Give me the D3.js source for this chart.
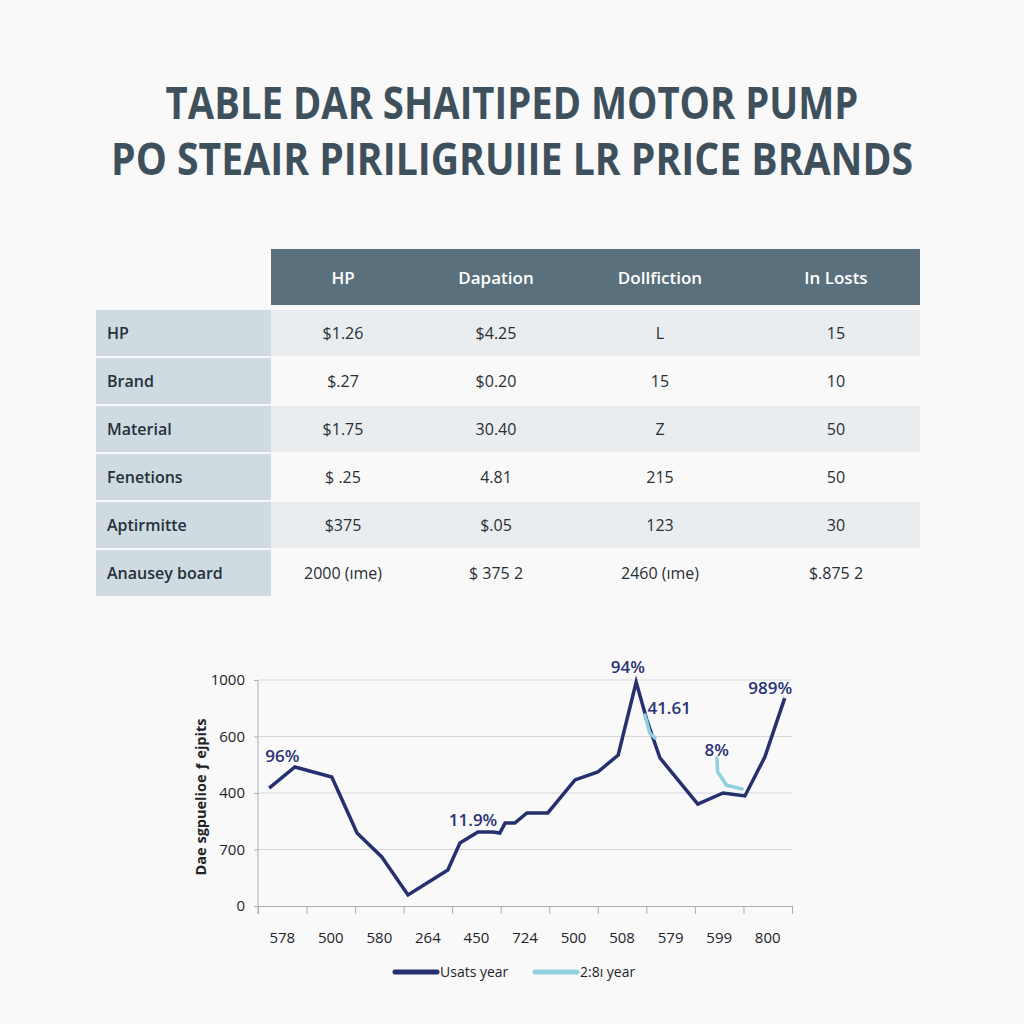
<!DOCTYPE html>
<html lang="en">
<head>
  <meta charset="UTF-8">
  <title>Motor pump price brands</title>
  <script src="https://cdn.jsdelivr.net/npm/d3@7/dist/d3.min.js"></script>
  <style>
    html, body { margin: 0; padding: 0; background: #f9f9fa; }
    svg { display: block; font-family: "Open Sans", "Noto Sans", sans-serif; }
  </style>
</head>
<body>
  <svg id="chart" width="1024" height="1024"></svg>
  <script>
    // ---- data ----
    const titleLines = ['TABLE DAR SHAITIPED MOTOR PUMP', 'PO STEAIR PIRILIGRUIIE LR PRICE BRANDS']
    const tableCols = ['HP', 'Dapation', 'Dollfiction', 'In Losts']
    const tableRows = ['HP', 'Brand', 'Material', 'Fenetions', 'Aptirmitte', 'Anausey board']
    const tableCells = [
      ['$1.26', '$4.25', 'L', '15'],
      ['$.27', '$0.20', '15', '10'],
      ['$1.75', '30.40', 'Z', '50'],
      ['$ .25', '4.81', '215', '50'],
      ['$375', '$.05', '123', '30'],
      ['2000 (ıme)', '$ 375 2', '2460 (ıme)', '$.875 2']
    ]

    const xLabels = ['578', '500', '580', '264', '450', '724', '500', '508', '579', '599', '800']
    const yTickVals = [0, 250, 500, 750, 1000]
    const yTickText = ['0', '700', '400', '600', '1000']
    const yTitle = 'Dae sgpuelioe ƒ ejpits'

    // series 1 (dark) – x in category units, y in axis units
    const usatsX = [0.23, 0.76, 1.52, 2.04, 2.55, 3.09, 3.91, 4.16, 4.53, 4.84, 4.98, 5.09, 5.29, 5.54, 5.97, 6.53, 7.0, 7.42, 7.79, 8.01, 8.28, 9.06, 9.58, 10.03, 10.44, 10.85]
    const usatsY = [522, 615, 571, 323, 217, 49, 159, 279, 327, 327, 323, 367, 367, 412, 412, 558, 593, 668, 991, 823, 655, 451, 500, 487, 659, 920]
    // series 2 (light) – two short pieces
    const secondX = [[7.97, 8.07, 8.18], [9.45, 9.47, 9.65, 9.97]]
    const secondY = [[845, 765, 743], [655, 593, 535, 518]]

    const notes = ['96%', '11.9%', '94%', '41.61', '8%', '989%']
    const noteX = [0.5, 4.43, 7.62, 8.47, 9.45, 10.55]
    const noteY = [637, 354, 1031, 850, 664, 938]

    const legendNames = ['Usats year', '2:8ı year']

    // ---- drawing ----
    const navy = '#26306e'
    const light = '#8fd0de'
    const svg = d3.select('#chart')

    // title – squeezed horizontally to the reference widths
    const titleWidths = [693, 802]
    svg.selectAll('.title')
      .data(titleLines)
      .enter()
      .append('text')
      .attr('class', 'title')
      .attr('x', 0)
      .attr('y', 0)
      .attr('text-anchor', 'middle')
      .attr('font-size', 45)
      .attr('font-weight', 700)
      .attr('fill', '#3e505c')
      .text(d => d)
      .each(function (d, i) {
        const w = this.getComputedTextLength()
        const sx = titleWidths[i] / w
        d3.select(this).attr('transform', `translate(512,${119 + i * 56}) scale(${sx},1)`)
      })

    // table
    const tbl = svg.append('g')
    const labelX0 = 96, labelX1 = 271, tableRight = 920
    const headTop = 249, headBottom = 305
    const rowY = d3.scaleBand().domain(d3.range(tableRows.length)).range([310, 596]).paddingInner(0.04)
    const colCenter = [343, 496, 660, 836]

    tbl.append('rect')
      .attr('x', labelX1).attr('y', headTop)
      .attr('width', tableRight - labelX1).attr('height', headBottom - headTop)
      .attr('fill', '#5b707d')
    tbl.selectAll('.th')
      .data(tableCols)
      .enter()
      .append('text')
      .attr('x', (d, i) => colCenter[i])
      .attr('y', (headTop + headBottom) / 2 + 7)
      .attr('text-anchor', 'middle')
      .attr('font-size', 17)
      .attr('font-weight', 600)
      .attr('fill', '#ffffff')
      .text(d => d)

    const rows = tbl.selectAll('.row')
      .data(tableRows)
      .enter()
      .append('g')
      .attr('transform', (d, i) => `translate(0,${rowY(i)})`)
    rows.append('rect')
      .attr('x', labelX0).attr('width', labelX1 - labelX0)
      .attr('height', rowY.bandwidth())
      .attr('fill', '#cfdbe1')
    rows.append('rect')
      .attr('x', labelX1).attr('width', tableRight - labelX1)
      .attr('height', rowY.bandwidth())
      .attr('fill', (d, i) => i % 2 === 0 ? '#e9edf0' : '#f9f9fa')
    rows.append('text')
      .attr('x', 107)
      .attr('y', rowY.bandwidth() / 2 + 6)
      .attr('font-size', 16)
      .attr('font-weight', 600)
      .attr('fill', '#25313a')
      .text(d => d)
    rows.each(function (d, i) {
      d3.select(this).selectAll('.td')
        .data(tableCells[i])
        .enter()
        .append('text')
        .attr('x', (v, j) => colCenter[j])
        .attr('y', rowY.bandwidth() / 2 + 6)
        .attr('text-anchor', 'middle')
        .attr('font-size', 16)
        .attr('fill', '#2a2f33')
        .text(v => v)
    })

    // line chart
    const x = d3.scaleLinear().domain([0, xLabels.length]).range([258, 792])
    const y = d3.scaleLinear().domain([0, 1000]).range([906, 680])
    const g = svg.append('g')

    g.selectAll('.grid')
      .data(yTickVals.slice(1))
      .enter()
      .append('line')
      .attr('x1', x(0)).attr('x2', x(xLabels.length))
      .attr('y1', d => y(d)).attr('y2', d => y(d))
      .attr('stroke', '#d3d7db').attr('stroke-width', 1)

    const xAxis = d3.axisBottom(x)
      .tickValues(d3.range(xLabels.length + 1))
      .tickSize(8)
      .tickFormat('')
    g.append('g')
      .attr('transform', `translate(0,${y(0)})`)
      .call(xAxis)
      .call(a => a.selectAll('line, path').attr('stroke', '#a9afb5'))
    g.selectAll('.xlab')
      .data(xLabels)
      .enter()
      .append('text')
      .attr('x', (d, i) => x(i + 0.5))
      .attr('y', 943)
      .attr('text-anchor', 'middle')
      .attr('font-size', 15)
      .attr('fill', '#1f2428')
      .text(d => d)

    const yAxis = d3.axisLeft(y)
      .tickValues(yTickVals)
      .tickSize(4)
      .tickFormat((d, i) => yTickText[i])
    g.append('g')
      .attr('transform', `translate(${x(0)},0)`)
      .call(yAxis)
      .call(a => a.select('.domain').attr('d', `M0,${y(1000)}V${y(0) + 8}`))
      .call(a => a.selectAll('line, path').attr('stroke', '#a9afb5'))
      .call(a => a.selectAll('text')
        .attr('font-size', 15)
        .attr('fill', '#1f2428')
        .attr('font-family', '"Open Sans", sans-serif')
        .attr('x', -13))

    g.append('text')
      .attr('transform', `translate(206,${(y(0) + y(1000)) / 2 + 4}) rotate(-90)`)
      .attr('text-anchor', 'middle')
      .attr('font-size', 14.5)
      .attr('font-weight', 700)
      .attr('fill', '#1f2428')
      .text(yTitle)

    const line = d3.line().x(d => x(d[0])).y(d => y(d[1]))

    g.append('path')
      .datum(usatsX.map((v, i) => [v, usatsY[i]]))
      .attr('d', line)
      .attr('fill', 'none')
      .attr('stroke', navy)
      .attr('stroke-width', 3.5)
      .attr('stroke-linejoin', 'miter')

    g.selectAll('.second')
      .data(secondX.map((xs, k) => xs.map((v, i) => [v, secondY[k][i]])))
      .enter()
      .append('path')
      .attr('d', line)
      .attr('fill', 'none')
      .attr('stroke', light)
      .attr('stroke-width', 3.5)
      .attr('stroke-linecap', 'round')

    g.selectAll('.note')
      .data(notes)
      .enter()
      .append('text')
      .attr('x', (d, i) => x(noteX[i]))
      .attr('y', (d, i) => y(noteY[i]))
      .attr('text-anchor', 'middle')
      .attr('font-size', 17)
      .attr('font-weight', 600)
      .attr('fill', '#2a3374')
      .text(d => d)

    // legend
    const legend = svg.append('g').attr('transform', 'translate(0,972)')
    const legX = [395, 535]
    const legColors = [navy, light]
    legendNames.forEach((name, i) => {
      legend.append('line')
        .attr('x1', legX[i]).attr('x2', legX[i] + 42)
        .attr('stroke', legColors[i])
        .attr('stroke-width', 5)
        .attr('stroke-linecap', 'round')
      legend.append('text')
        .attr('x', legX[i] + 45)
        .attr('y', 5)
        .attr('font-size', 14)
        .attr('fill', '#1f2428')
        .text(name)
    })
  </script>
</body>
</html>
